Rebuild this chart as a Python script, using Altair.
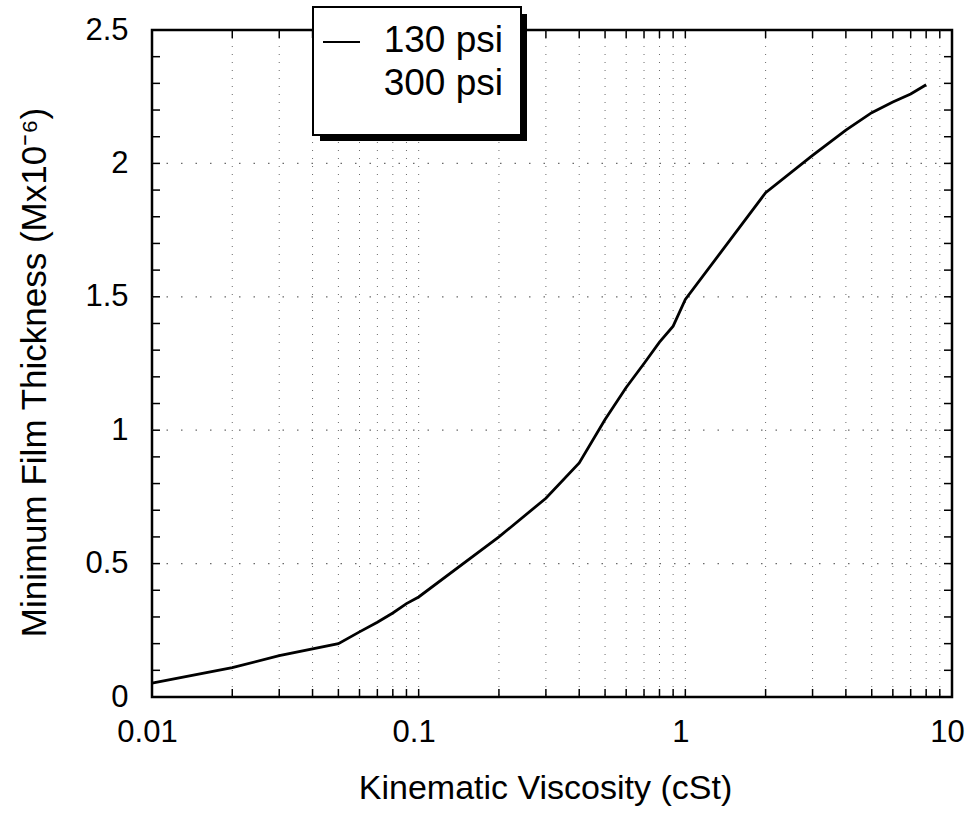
import altair as alt
import pandas as pd

# Minimum film thickness against kinematic viscosity (130 psi)
viscosity = [0.01, 0.02, 0.03, 0.05, 0.06, 0.07, 0.08, 0.09, 0.1, 0.2, 0.3,
             0.4, 0.5, 0.6, 0.7, 0.8, 0.9, 1, 2, 3, 4, 5, 6, 7, 8]
thickness_130 = [0.052, 0.11, 0.155, 0.2, 0.244, 0.28, 0.315, 0.35, 0.375,
                 0.6, 0.745, 0.877, 1.04, 1.16, 1.25, 1.33, 1.39, 1.49,
                 1.89, 2.03, 2.125, 2.19, 2.23, 2.26, 2.295]

series_names = ["130 psi", "300 psi"]

x_ticks = [0.01, 0.1, 1, 10]
y_ticks = [0, 0.5, 1, 1.5, 2, 2.5]
x_minor = [m * 10 ** d for d in (-2, -1, 0) for m in range(1, 10)] + [10]
y_minor = [round(i * 0.1, 1) for i in range(26)]
y_grid = [0.5, 1, 1.5, 2]

W, H = 800, 667
FONT = "Liberation Sans"

line_df = pd.DataFrame({"v": viscosity, "t": thickness_130})
xminor_df = pd.DataFrame({"v": x_minor})
xgrid_df = pd.DataFrame({"v": [v for v in x_minor if 0.01 < v < 10]})
yminor_df = pd.DataFrame({"t": y_minor})
ygrid_df = pd.DataFrame({"t": y_grid})

x_scale = alt.Scale(type="log", domain=[0.01, 10], nice=False)
y_scale = alt.Scale(domain=[0, 2.5], nice=False, zero=False)

x_axis = alt.Axis(values=x_ticks, format="~g", ticks=False, domain=False,
                  grid=False, labelFontSize=31, labelPadding=20,
                  labelFlush=False, labelOffset=-5, labelColor="black",
                  title="Kinematic Viscosity (cSt)",
                  titleFontSize=34, titleFontWeight="normal",
                  titleColor="black", titleX=393, titleY=101,
                  titleAlign="center", titleBaseline="alphabetic")
y_axis = alt.Axis(values=y_ticks, format="~g", ticks=False, domain=False,
                  grid=False, labelFontSize=31, labelPadding=24,
                  labelColor="black",
                  title="Minimum Film Thickness (Mx10\u207b\u2076)",
                  titleFontSize=35, titleFontWeight="normal",
                  titleColor="black", titleX=-107, titleY=342,
                  titleAlign="center", titleBaseline="alphabetic")

X = lambda: alt.X("v:Q", scale=x_scale, axis=x_axis)
Y = lambda: alt.Y("t:Q", scale=y_scale, axis=y_axis)

dot_color = "#6a6a6a"

vgrid = alt.Chart(xgrid_df).mark_rule(
    color=dot_color, strokeWidth=1, strokeDash=[1, 7]
).encode(x=X(), y=alt.value(0), y2=alt.value(H))

hgrid = alt.Chart(ygrid_df).mark_rule(
    color=dot_color, strokeWidth=1.2, strokeDash=[1.5, 13]
).encode(y=Y(), x=alt.value(0), x2=alt.value(W))

tick_style = dict(color="black", strokeWidth=1.5)
xt_bottom = alt.Chart(xminor_df).mark_rule(**tick_style).encode(
    x=X(), y=alt.value(H), y2=alt.value(H - 8))
xt_top = alt.Chart(xminor_df).mark_rule(**tick_style).encode(
    x=X(), y=alt.value(0), y2=alt.value(8))
yt_left = alt.Chart(yminor_df).mark_rule(**tick_style).encode(
    y=Y(), x=alt.value(0), x2=alt.value(8))
yt_right = alt.Chart(yminor_df).mark_rule(**tick_style).encode(
    y=Y(), x=alt.value(W), x2=alt.value(W - 8))

curve = alt.Chart(line_df).mark_line(
    color="black", strokeWidth=2.8
).encode(x=X(), y=Y())

# Boxed legend with a drop shadow, sitting over the top frame
one = pd.DataFrame({"k": [0]})
shadow = alt.Chart(one).mark_rect(color="black").encode(
    x=alt.value(168), x2=alt.value(375), y=alt.value(-16), y2=alt.value(111))
box = alt.Chart(one).mark_rect(
    fill="white", stroke="black", strokeWidth=2
).encode(x=alt.value(161), x2=alt.value(369), y=alt.value(-23), y2=alt.value(105))
sym = alt.Chart(one).mark_rule(color="black", strokeWidth=2).encode(
    x=alt.value(171), x2=alt.value(208), y=alt.value(12))

legend_rows = [
    alt.Chart(pd.DataFrame({"name": [n]})).mark_text(
        align="right", baseline="alphabetic", font=FONT, fontSize=37,
        color="black"
    ).encode(text="name:N", x=alt.value(351), y=alt.value(22 + 43 * i))
    for i, n in enumerate(series_names)
]

chart = alt.layer(
    vgrid, hgrid, xt_bottom, xt_top, yt_left, yt_right, curve,
    shadow, box, sym, *legend_rows
).properties(
    width=W, height=H,
    autosize=alt.AutoSizeParams(type="none"),
    padding={"left": 152, "top": 30, "right": 20, "bottom": 116},
).configure(
    font=FONT,
).configure_view(
    stroke="black", strokeWidth=2.5
)

chart.save("out.html", embed_options={"renderer": "svg", "actions": False})
